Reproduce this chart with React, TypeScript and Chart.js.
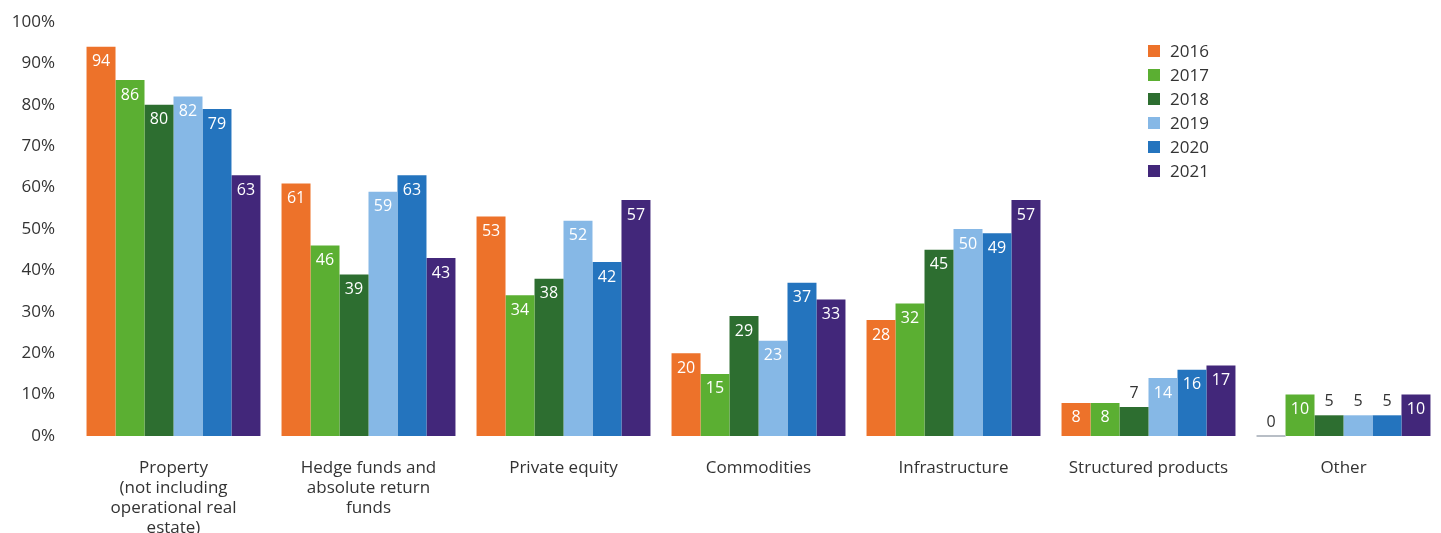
import React, { useEffect, useRef } from "react";
import { Chart, registerables } from "chart.js";

Chart.register(...registerables);

const categories: string[][] = [
  ["Property", "(not including", "operational real", "estate)"],
  ["Hedge funds and", "absolute return", "funds"],
  ["Private equity"],
  ["Commodities"],
  ["Infrastructure"],
  ["Structured products"],
  ["Other"],
];

const years = ["2016", "2017", "2018", "2019", "2020", "2021"];
const colors = ["#ED722A", "#5BAF32", "#2D6E30", "#86B8E6", "#2474BE", "#42277A"];

const v2016 = [94, 61, 53, 20, 28, 8, 0];
const v2017 = [86, 46, 34, 15, 32, 8, 10];
const v2018 = [80, 39, 38, 29, 45, 7, 5];
const v2019 = [82, 59, 52, 23, 50, 14, 5];
const v2020 = [79, 63, 42, 37, 49, 16, 5];
const v2021 = [63, 43, 57, 33, 57, 17, 10];
const seriesValues = [v2016, v2017, v2018, v2019, v2020, v2021];

const yTicks = [0, 10, 20, 30, 40, 50, 60, 70, 80, 90, 100];

const FONT = "'Open Sans', sans-serif";
const TEXT = "#333333";

const labelPlugin = {
  id: "barLabels",
  afterDatasetsDraw(chart: any) {
    const ctx = chart.ctx;
    ctx.save();
    ctx.font = `16px ${FONT}`;
    ctx.textAlign = "center";
    ctx.textBaseline = "middle";
    chart.data.datasets.forEach((ds: any, i: number) => {
      const meta = chart.getDatasetMeta(i);
      meta.data.forEach((el: any, j: number) => {
        const v = ds.data[j];
        if (v === 0) {
          ctx.fillStyle = "#B8BEC6";
          ctx.fillRect(el.x - el.width / 2, el.base - 1, el.width, 2);
          ctx.fillStyle = TEXT;
          ctx.fillText(String(v), el.x, el.y - 14);
        } else if (v < 8) {
          ctx.fillStyle = TEXT;
          ctx.fillText(String(v), el.x, el.y - 14);
        } else {
          ctx.fillStyle = "#FFFFFF";
          ctx.fillText(String(v), el.x, el.y + 15);
        }
      });
    });
    ctx.restore();
  },
};

const legendPlugin = {
  id: "customLegend",
  afterDraw(chart: any) {
    const ctx = chart.ctx;
    ctx.save();
    ctx.font = `17px ${FONT}`;
    ctx.textAlign = "left";
    ctx.textBaseline = "middle";
    years.forEach((y, i) => {
      const cy = 51 + i * 24;
      ctx.fillStyle = colors[i];
      ctx.fillRect(1148, cy - 6, 12, 12);
      ctx.fillStyle = TEXT;
      ctx.fillText(y, 1170, cy + 1);
    });
    ctx.restore();
  },
};

export default function App() {
  const ref = useRef<HTMLCanvasElement>(null);
  useEffect(() => {
    document.body.style.margin = "0";
    const canvas = ref.current!;
    const chart = new Chart(canvas, {
      type: "bar",
      data: {
        labels: categories,
        datasets: years.map((y, i) => ({
          label: y,
          data: seriesValues[i],
          backgroundColor: colors[i],
          borderWidth: 0,
          categoryPercentage: 0.892,
          barPercentage: 1,
        })),
      },
      options: {
        responsive: false,
        animation: false,
        devicePixelRatio: 1,
        layout: { padding: { top: 22, right: 0, left: 0, bottom: 0 } },
        plugins: {
          legend: { display: false },
          tooltip: { enabled: false },
        },
        scales: {
          x: {
            grid: { display: false, drawTicks: false },
            border: { display: false },
            ticks: {
              color: TEXT,
              font: { family: FONT, size: 17, lineHeight: 1.18 },
              padding: 22,
              maxRotation: 0,
              autoSkip: false,
            },
            afterFit(scale: any) {
              scale.height = 97;
              scale.paddingLeft = 0;
              scale.paddingRight = 0;
            },
          },
          y: {
            min: 0,
            max: 100,
            grid: { display: false, drawTicks: false },
            border: { display: false },
            afterBuildTicks(scale: any) {
              scale.ticks = yTicks.map((v) => ({ value: v }));
            },
            ticks: {
              color: TEXT,
              font: { family: FONT, size: 17 },
              padding: 21,
              callback: (v: any) => `${v}%`,
            },
            afterFit(scale: any) {
              scale.width = 76;
              scale.paddingTop = 0;
              scale.paddingBottom = 0;
            },
          },
        },
      },
      plugins: [labelPlugin, legendPlugin],
    });
    return () => chart.destroy();
  }, []);
  return <canvas ref={ref} width={1441} height={533} style={{ display: "block" }} />;
}
